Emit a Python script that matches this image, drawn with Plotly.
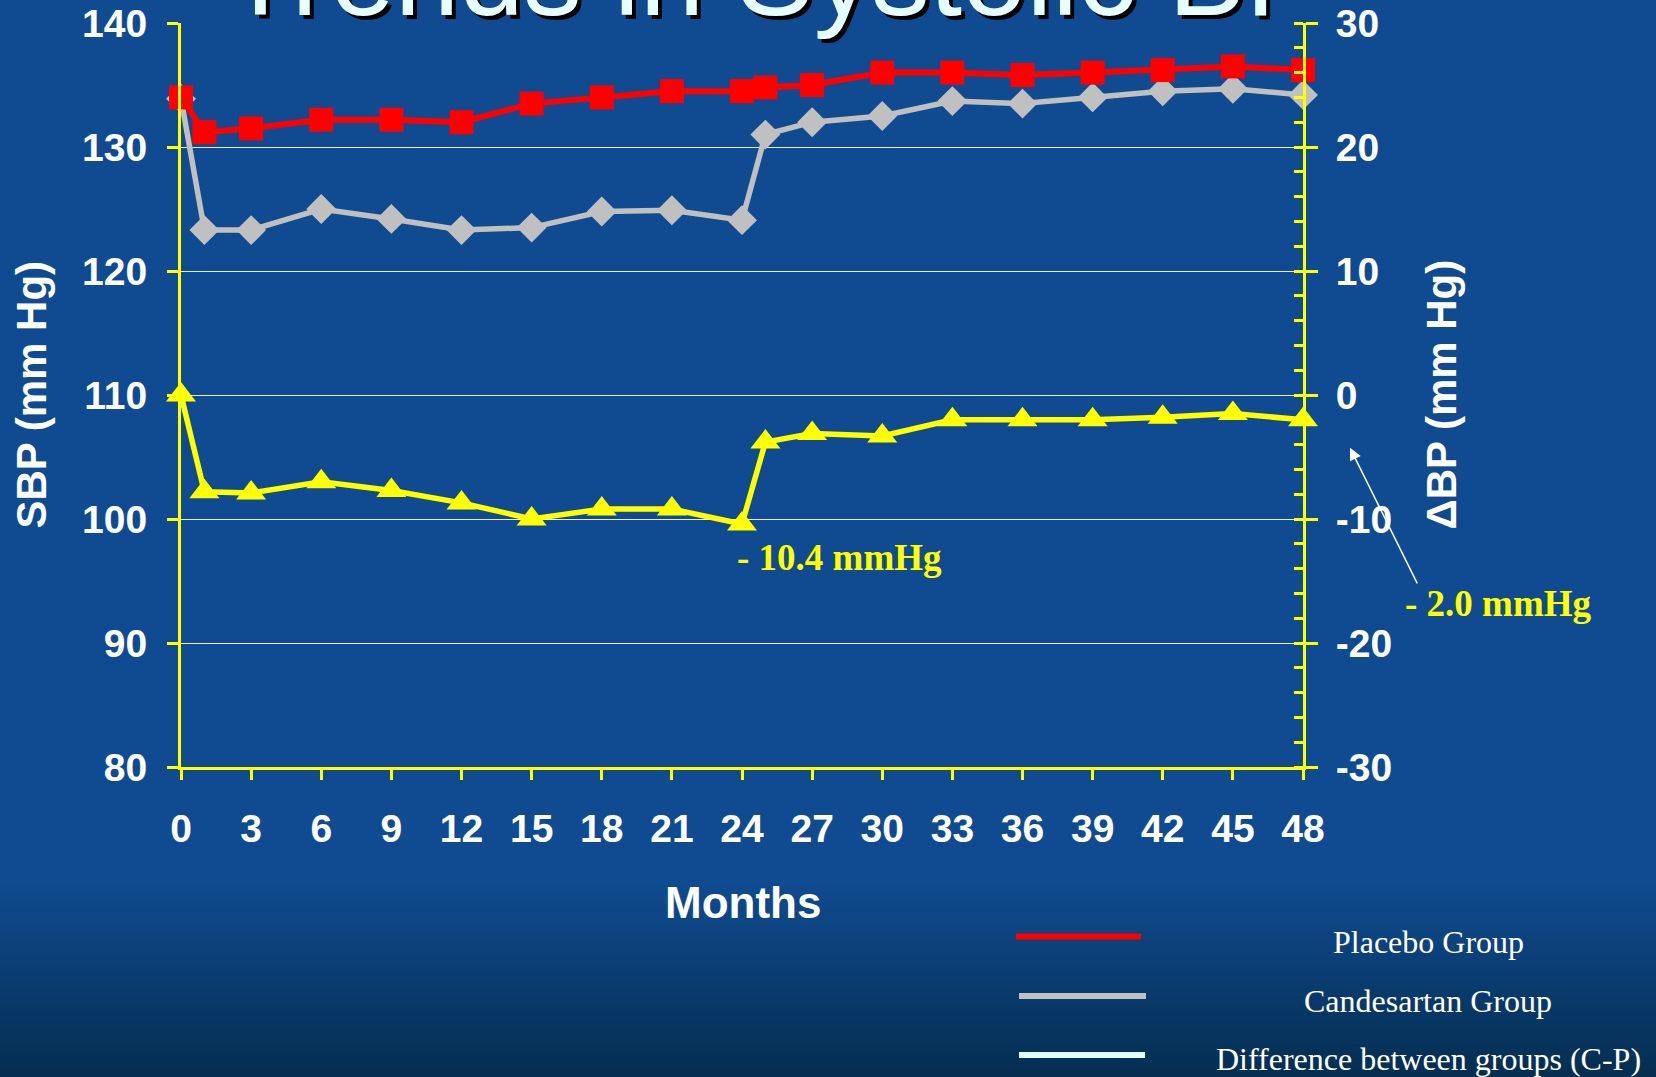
import plotly.graph_objects as go

# ---- data -------------------------------------------------------------
months = [0, 1, 3, 6, 9, 12, 15, 18, 21, 24, 25, 27, 30, 33, 36, 39, 42, 45, 48]
placebo_sbp = [134.0, 131.2, 131.5, 132.2, 132.2, 132.0, 133.5, 134.0, 134.5, 134.5,
               134.8, 135.0, 136.0, 136.0, 135.8, 136.0, 136.2, 136.5, 136.2]
candesartan_sbp = [133.9, 123.3, 123.3, 125.0, 124.2, 123.3, 123.5, 124.8, 124.9, 124.1,
                   131.0, 132.0, 132.5, 133.7, 133.5, 134.0, 134.5, 134.7, 134.2]
diff_bp = [0.0, -7.8, -7.9, -7.0, -7.7, -8.7, -10.0, -9.2, -9.2, -10.4,
           -3.8, -3.1, -3.3, -2.0, -2.0, -2.0, -1.8, -1.5, -2.0]

x_ticks = [0, 3, 6, 9, 12, 15, 18, 21, 24, 27, 30, 33, 36, 39, 42, 45, 48]
sbp_ticks = [80, 90, 100, 110, 120, 130, 140]
delta_ticks = [-30, -20, -10, 0, 10, 20, 30]
delta_tick_text = ["-30", "-20", "-10", "0", "10", "20", "30"]

series_names = ["Placebo Group", "Candesartan Group", "Difference between groups (C-P)"]
title_text = "Trends in Systolic BP"

# ---- geometry / style -------------------------------------------------
W, H = 1656, 1077
L, R, T, B = 181, 353, 23, 310
PW, PH = W - L - R, H - T - B

def px_x(p):
    return (p - L) / PW

def px_y(p):
    return (H - B - p) / PH

SANS = "Liberation Sans, Arial, sans-serif"
SERIF = "Liberation Serif, Times New Roman, serif"
YELLOW = "#FFFF00"
RED = "#FF0000"
GRAY = "#C0C0C0"
PALE = "#E0FFFF"

fig = go.Figure()

fig.add_trace(go.Scatter(
    x=months, y=candesartan_sbp, name=series_names[1], mode="lines+markers",
    line=dict(color=GRAY, width=5.5),
    marker=dict(symbol="diamond", size=23, color=GRAY),
    cliponaxis=False, yaxis="y"))

fig.add_trace(go.Scatter(
    x=months, y=placebo_sbp, name=series_names[0], mode="lines+markers",
    line=dict(color=RED, width=6),
    marker=dict(symbol="square", size=24, color=RED),
    cliponaxis=False, yaxis="y"))

fig.add_trace(go.Scatter(
    x=months, y=diff_bp, name=series_names[2], mode="lines+markers",
    line=dict(color=YELLOW, width=5.5),
    marker=dict(symbol="triangle-up", size=26, color=YELLOW),
    cliponaxis=False, yaxis="y2"))

tickfont = dict(family=SANS, size=39, color="white", weight="bold")

fig.update_layout(
    width=W, height=H,
    margin=dict(l=L, r=R, t=T, b=B, pad=0, autoexpand=False),
    paper_bgcolor="#104B91",
    plot_bgcolor="rgba(0,0,0,0)",
    showlegend=False,
    xaxis=dict(
        range=[0, 48], tickmode="array", tickvals=x_ticks,
        ticktext=[str(v) for v in x_ticks], automargin=False,
        ticks="outside", ticklen=10, tickwidth=2.5, tickcolor=YELLOW,
        showline=True, linecolor=YELLOW, linewidth=3,
        showgrid=False, zeroline=False, tickfont=tickfont,
        ticklabelstandoff=15),
    yaxis=dict(
        range=[80, 140], tickmode="array", tickvals=sbp_ticks, automargin=False,
        ticks="outside", ticklen=11, tickwidth=2.5, tickcolor=YELLOW,
        showline=True, linecolor=YELLOW, linewidth=3,
        showgrid=True, gridcolor="rgba(255,255,255,0.9)", gridwidth=1.3,
        zeroline=False, tickfont=tickfont, ticklabelstandoff=12),
    yaxis2=dict(
        overlaying="y", side="right", range=[-30, 30], automargin=False,
        tickmode="array", tickvals=delta_ticks, ticktext=delta_tick_text,
        ticks="outside", ticklen=12, tickwidth=2.5, tickcolor=YELLOW,
        showline=True, linecolor=YELLOW, linewidth=3,
        showgrid=False, zeroline=False, tickfont=tickfont,
        ticklabelstandoff=10,
        minor=dict(tickmode="linear", tick0=-30, dtick=2, ticks="inside",
                   ticklen=9, tickwidth=2.5, tickcolor=YELLOW, showgrid=False)),
    yaxis3=dict(
        overlaying="y", side="right", range=[-30, 30], automargin=False,
        tickmode="array", tickvals=delta_ticks,
        ticks="inside", ticklen=12, tickwidth=2.5, tickcolor=YELLOW,
        showticklabels=False, showline=False, showgrid=False, zeroline=False),
)

# darker band toward the bottom of the slide
shapes = []
n_bands = 30
y_start, y_end = 880, H
c0, c1 = (16, 75, 145), (5, 46, 80)
for i in range(n_bands):
    f = (i + 0.5) / n_bands
    col = tuple(round(a + (b - a) * f) for a, b in zip(c0, c1))
    ya = y_start + (y_end - y_start) * i / n_bands
    yb = y_start + (y_end - y_start) * (i + 1) / n_bands + 1
    shapes.append(dict(type="rect", xref="paper", yref="paper", layer="below",
                       x0=px_x(0), x1=px_x(W), y0=px_y(yb), y1=px_y(ya),
                       fillcolor="rgb(%d,%d,%d)" % col, line=dict(width=0)))

# legend swatches
legend_rows = [(RED, 1016, 1141, 936.5), (GRAY, 1019, 1146, 996), (PALE, 1019, 1145, 1055)]
for col, xa, xb, yy in legend_rows:
    shapes.append(dict(type="line", xref="paper", yref="paper",
                       x0=px_x(xa), x1=px_x(xb), y0=px_y(yy), y1=px_y(yy),
                       line=dict(color=col, width=6)))
fig.update_layout(shapes=shapes)

ann = []
# slide title with drop shadow (runs off the top edge)
for color, dx, dy in [("black", 4, -4), ("#E6FFFF", 0, 0)]:
    ann.append(dict(text=title_text, xref="paper", yref="paper",
                    x=px_x(774), y=px_y(-25), xanchor="center", yanchor="middle",
                    xshift=dx, yshift=dy, showarrow=False,
                    font=dict(family=SANS, size=116, color=color)))

# axis titles
ann.append(dict(text="SBP (mm Hg)", xref="paper", yref="paper",
                x=px_x(30.5), y=px_y(395), textangle=-90, showarrow=False,
                xanchor="center", yanchor="middle",
                font=dict(family=SANS, size=42, color="white", weight="bold")))
ann.append(dict(text="ΔBP (mm Hg)", xref="paper", yref="paper",
                x=px_x(1440.5), y=px_y(395), textangle=-90, showarrow=False,
                xanchor="center", yanchor="middle",
                font=dict(family=SANS, size=42, color="white", weight="bold")))
ann.append(dict(text="Months", xref="paper", yref="paper",
                x=px_x(743), y=px_y(902.8), showarrow=False,
                xanchor="center", yanchor="middle",
                font=dict(family=SANS, size=44, color="white", weight="bold")))

# value callouts on the difference curve
i24 = months.index(24)
ann.append(dict(text="- %.1f mmHg" % abs(diff_bp[i24]), xref="x", yref="y2",
                x=months[i24], y=diff_bp[i24], xshift=97, yshift=-33.5,
                showarrow=False, xanchor="center", yanchor="middle",
                font=dict(family=SERIF, size=37, color=YELLOW, weight="bold")))
ann.append(dict(text="", xref="x", yref="y2", x=months[-1], y=diff_bp[-1],
                xshift=47, yshift=-28, showarrow=True, ax=68, ay=137,
                arrowhead=2, arrowsize=1.6, arrowwidth=1.5, arrowcolor="white"))
ann.append(dict(text="- %.1f mmHg" % abs(diff_bp[-1]), xref="x", yref="y2",
                x=months[-1], y=diff_bp[-1], xshift=194.5, yshift=-184,
                showarrow=False, xanchor="center", yanchor="middle",
                font=dict(family=SERIF, size=37, color=YELLOW, weight="bold")))

# legend labels
for name, yy in zip(series_names, [942, 1001, 1059]):
    ann.append(dict(text=name, xref="paper", yref="paper", x=px_x(1428), y=px_y(yy),
                    showarrow=False, xanchor="center", yanchor="middle",
                    font=dict(family=SERIF, size=32, color="white")))

fig.update_layout(annotations=ann)

fig.write_html("out.html")
